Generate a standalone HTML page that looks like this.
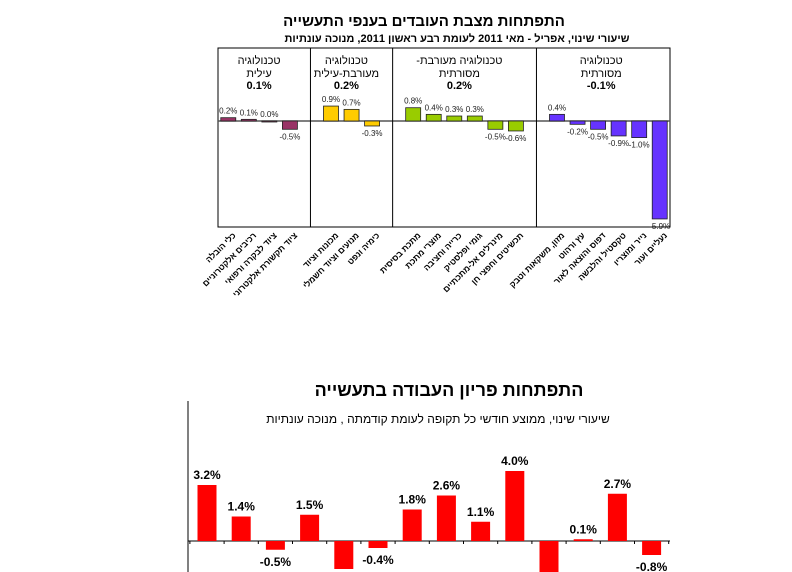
<!DOCTYPE html>
<html><head><meta charset="utf-8"><style>
html,body{margin:0;padding:0;background:#fff;}
svg{display:block;font-family:"Liberation Sans","Noto Sans CJK SC",sans-serif;}
</style></head><body>
<svg id="s" width="792" height="572" viewBox="0 0 792 572" xmlns="http://www.w3.org/2000/svg">
<text x="424" y="26" text-anchor="middle" font-size="15" font-weight="bold" direction="rtl">התפתחות מצבת העובדים בענפי התעשייה</text>
<text x="457" y="42" text-anchor="middle" font-size="11" font-weight="bold" direction="rtl">שיעורי שינוי, אפריל - מאי 2011 לעומת רבע ראשון 2011, מנוכה עונתיות</text>
<rect x="218" y="48" width="452" height="179" fill="none" stroke="#000" stroke-width="1"/>
<g id="top"></g>
<text x="449" y="396" text-anchor="middle" font-size="18" font-weight="bold" direction="rtl">התפתחות פריון העבודה בתעשייה</text>
<text x="438" y="423" text-anchor="middle" font-size="12" direction="rtl">שיעורי שינוי, ממוצע חודשי כל תקופה לעומת קודמתה , מנוכה עונתיות</text>
<line x1="188" y1="401" x2="188" y2="572" stroke="#000"/>
<g id="bot"></g>
</svg>
<script>
const topCategories=["כלי הובלה","רכיבים אלקטרוניים","ציוד לבקרה ורפואי","ציוד תקשורת אלקטרוני","מכונות וציוד","מנועים וציוד חשמלי","כימיה ונפט","מתכת בסיסית","מוצרי מתכת","כרייה וחציבה","גומי ופלסטיק","מינרלים אל-מתכתיים","תכשיטים וחפצי חן","מזון, משקאות וטבק","עץ ורהוט","דפוס והוצאה לאור","טקסטיל והלבשה","נייר ומוצריו","נעליים ועור"];
const topValues=[0.2,0.1,0.0,-0.5,0.9,0.7,-0.3,0.8,0.4,0.3,0.3,-0.5,-0.6,0.4,-0.2,-0.5,-0.9,-1.0,-5.9];
const topGroup=[0,0,0,0,1,1,1,2,2,2,2,2,2,3,3,3,3,3,3];
const groupNames=[["טכנולוגיה","עילית"],["טכנולוגיה","מעורבת-עילית"],["טכנולוגיה מעורבת-","מסורתית"],["טכנולוגיה","מסורתית"]];
const groupValues=["0.1%","0.2%","0.2%","-0.1%"];
const groupColors=["#993366","#ffcc00","#99cc00","#6633ff"];
const botValues=[3.2,1.4,-0.5,1.5,-1.6,-0.4,1.8,2.6,1.1,4.0,-2.2,0.1,2.7,-0.8];
const botLabels=["3.2%","1.4%","-0.5%","1.5%","","-0.4%","1.8%","2.6%","1.1%","4.0%","","0.1%","2.7%","-0.8%"];

const NS="http://www.w3.org/2000/svg";
function mk(p,t,a){const e=document.createElementNS(NS,t);for(const k in a)e.setAttribute(k,a[k]);p.appendChild(e);return e;}
const tg=document.getElementById('top');
const L=218,W=452,slots=22,sw=W/slots,zeroY=121,ppu=16.6;
const ty=v=>zeroY-v*ppu;
function slotIndex(i){return i+topGroup[i];}
mk(tg,'line',{x1:L,y1:zeroY,x2:L+W,y2:zeroY,stroke:'#555','stroke-width':1.5});
for(let g=1;g<4;g++){let idx=topGroup.indexOf(g);let x=L+(slotIndex(idx)-0.5)*sw;
 const d=mk(tg,'line',{x1:x,y1:48,x2:x,y2:227,stroke:'#000'});
 
 }
for(let g=0;g<4;g++){
 const idxs=topGroup.map((v,i)=>v===g?i:-1).filter(i=>i>=0);
 const x0=L+(slotIndex(idxs[0])-0.5)*sw,x1=L+(slotIndex(idxs[idxs.length-1])+1)*sw;
 const cx=g===0?(L+x1)/2:(x0+x1)/2+(g===3?-2:0);
 groupNames[g].forEach((n,j)=>{const t=mk(tg,'text',{x:cx,y:64+j*13,'text-anchor':'middle','font-size':11,direction:'rtl'});t.textContent=n;
  
  });
 const t=mk(tg,'text',{x:cx,y:89,'text-anchor':'middle','font-size':11,'font-weight':'bold'});t.textContent=groupValues[g];
 
 
}
topValues.forEach((v,i)=>{
 const cx=L+(slotIndex(i)+0.5)*sw,bw=15;
 const y=Math.min(ty(v),zeroY),h=Math.max(Math.abs(v)*ppu,1);
 const r=mk(tg,'rect',{x:cx-bw/2,y:y,width:bw,height:h,fill:groupColors[topGroup[i]],stroke:'#222','stroke-width':0.8});
 
 
 const ly=v>=0?ty(v)-4:ty(v)+10;
 const t=mk(tg,'text',{x:cx,y:ly,'text-anchor':'middle','font-size':8,fill:'#222'});t.textContent=v.toFixed(1)+'%';
 
 
 const c=mk(tg,'text',{x:0,y:0,'text-anchor':'start','font-size':8.5,'font-weight':'bold',direction:'rtl',transform:`translate(${cx+8},236) rotate(-45)`});c.textContent=topCategories[i];
 
 
});
const bg=document.getElementById('bot');
const bz=541,bppu=17.5,bx0=207,bstep=34.2;
const by=v=>bz-v*bppu;
mk(bg,'line',{x1:188,y1:bz,x2:670,y2:bz,stroke:'#000'});
for(let i=0;i<=botValues.length;i++){const x=bx0+(i-0.5)*bstep;mk(bg,'line',{x1:x,y1:bz,x2:x,y2:bz+3,stroke:'#000'});}
botValues.forEach((v,i)=>{
 const cx=bx0+i*bstep,bw=19;
 const y=Math.min(by(v),bz),h=Math.max(Math.abs(v)*bppu,1.5);
 const r=mk(bg,'rect',{x:cx-bw/2,y:y,width:bw,height:h,fill:'#ff0000'});
 
 
 if(botLabels[i]){const ly=v>=0?by(v)-6:by(v)+16;
 const t=mk(bg,'text',{x:cx,y:ly,'text-anchor':'middle','font-size':12,'font-weight':'bold'});t.textContent=botLabels[i];
 
 }
});
</script>
</body></html>
